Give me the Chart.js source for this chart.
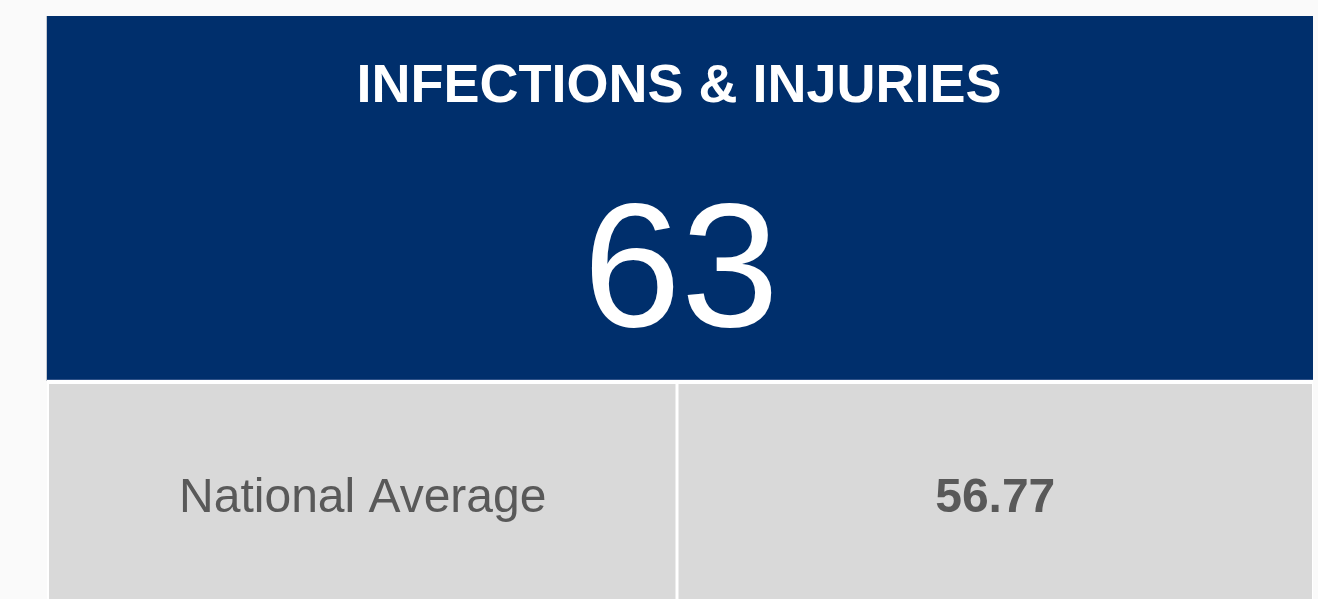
<!DOCTYPE html>
<html>
<head>
<meta charset="utf-8">
<script src="https://cdn.jsdelivr.net/npm/chart.js@4.4.0/dist/chart.umd.min.js"></script>
<style>
  html, body { margin: 0; padding: 0; background: #fafafa; }
  #c { display: block; }
</style>
</head>
<body>
<canvas id="c" width="1318" height="599"></canvas>
<script>
// ---- data ----
const titles = ["INFECTIONS & INJURIES"];
const values = [63];
const compareLabels = ["National Average"];
const compareValues = [56.77];

const NAVY = "#002F6C";
const CELL = "#D9D9D9";
const GREYTXT = "#595959";
const FONT = "'Liberation Sans', Arial, Helvetica, sans-serif";

const kpiTile = {
  id: "kpiTile",
  beforeDraw(chart) {
    const ctx = chart.ctx;
    const a = chart.chartArea;
    const L = a.left, R = a.right, T = a.top, B = a.bottom;
    const W = R - L;
    const headerBottom = T + 364;
    const cellTop = headerBottom + 4;
    const midX = L + 629.5;

    ctx.save();
    // white backing of the tile
    ctx.fillStyle = "#ffffff";
    ctx.fillRect(L, T, W, B - T);
    // header
    ctx.fillStyle = NAVY;
    ctx.fillRect(L, T, W, headerBottom - T);
    // subtle edges
    ctx.fillStyle = "#c4c8d0";
    ctx.fillRect(L - 1, T, 1, headerBottom - T + 1);
    ctx.fillStyle = "#2f5288";
    ctx.fillRect(L, headerBottom - 1, W, 1);

    // comparison cells
    ctx.fillStyle = CELL;
    ctx.fillRect(L + 2, cellTop, midX - (L + 2) - 1, B - cellTop);
    ctx.fillRect(midX + 2, cellTop, R - 1 - (midX + 2), B - cellTop);

    // texts
    ctx.textAlign = "center";
    ctx.textBaseline = "alphabetic";
    ctx.fillStyle = "#ffffff";
    ctx.font = "bold 54px " + FONT;
    ctx.fillText(titles[0], (L + R) / 2 - 1, T + 86);

    ctx.font = "176px " + FONT;
    ctx.fillText(String(values[0]), (L + R) / 2 + 1, T + 310);

    ctx.fillStyle = GREYTXT;
    ctx.font = "48px " + FONT;
    ctx.fillText(compareLabels[0], (L + 2 + midX) / 2, 512);
    ctx.font = "bold 48px " + FONT;
    ctx.fillText(compareValues[0].toFixed(2), (midX + 2 + R - 1) / 2, 512);
    ctx.restore();
  }
};

new Chart(document.getElementById("c"), {
  type: "bar",
  data: {
    labels: compareLabels,
    datasets: [{ label: titles[0], data: values, backgroundColor: "rgba(0,0,0,0)" }]
  },
  options: {
    responsive: false,
    animation: false,
    events: [],
    layout: { padding: { left: 47, right: 5, top: 16, bottom: 0 } },
    plugins: { legend: { display: false }, tooltip: { enabled: false }, title: { display: false } },
    scales: { x: { display: false }, y: { display: false, min: 0, max: 100 } }
  },
  plugins: [kpiTile]
});
</script>
</body>
</html>
